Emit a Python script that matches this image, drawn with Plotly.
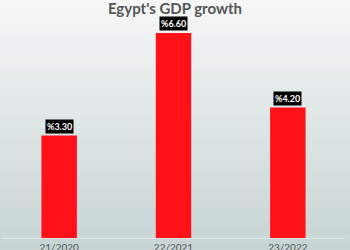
import plotly.graph_objects as go

categories = ["21/2020", "22/2021", "23/2022"]
values = [3.30, 6.60, 4.20]
labels = ["%3.30", "%6.60", "%4.20"]

fig = go.Figure()
fig.add_trace(go.Bar(x=categories, y=values, marker=dict(color="#fe1118", line=dict(width=0)),
                     hoverinfo="skip"))

# vertical background gradient via thin strips
top = (250, 250, 250)
bot = (197, 211, 210)
n = 60
shapes = []
for i in range(n):
    t = i / (n - 1)
    c = tuple(int(round(top[k] + (bot[k] - top[k]) * t)) for k in range(3))
    shapes.append(dict(type="rect", xref="paper", yref="paper", layer="below",
                       x0=-0.1, x1=1.1, y1=1.2 - i * (1.3 / n), y0=1.2 - (i + 1) * (1.3 / n) - 0.002,
                       fillcolor="rgb(%d,%d,%d)" % c, line=dict(width=0)))

for cat, v, lab in zip(categories, values, labels):
    fig.add_annotation(x=cat, y=v, text="<b>%s</b>" % lab, showarrow=False, yanchor="bottom",
                       yshift=2, bgcolor="black", font=dict(color="white", size=9, family="Lato"),
                       borderpad=1)

fig.update_layout(
    width=350, height=250,
    margin=dict(l=2, r=5, t=20, b=12, autoexpand=False),
    paper_bgcolor="rgba(0,0,0,0)", plot_bgcolor="rgba(0,0,0,0)",
    shapes=shapes,
    bargap=0.69,
    showlegend=False,
    title=dict(text="<b>Egypt's GDP growth</b>", x=0.5, xanchor="center", y=0.965, yanchor="middle",
               font=dict(family="Lato", size=15, color="#555555")),
    xaxis=dict(showgrid=False, showline=True, linecolor="#dfe6e6", linewidth=1, ticks="",
               ticklabelstandoff=0, automargin=False,
               tickfont=dict(family="Lato", size=10, color="#555555"), fixedrange=True),
    yaxis=dict(range=[0, 7.02], visible=False, showgrid=False, zeroline=False, automargin=False),
)
fig.write_html("out.html")
